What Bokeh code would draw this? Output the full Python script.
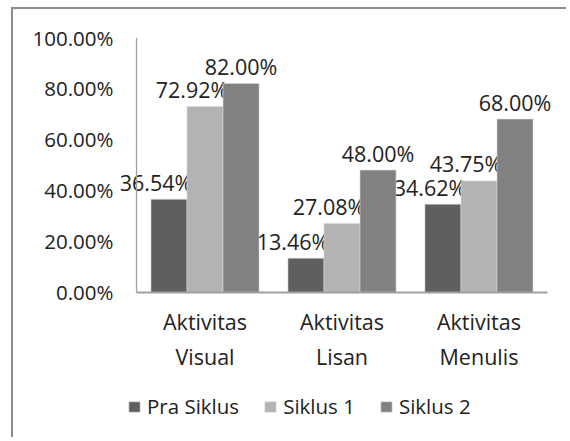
from bokeh.plotting import figure
from bokeh.models import (ColumnDataSource, Range1d, FactorRange, NumeralTickFormatter,
                          FixedTicker, Legend, LegendItem)
from bokeh.transform import dodge
from bokeh.core.properties import value
from bokeh.embed import file_html
from bokeh.resources import INLINE

categories = ["Aktivitas\nVisual", "Aktivitas\nLisan", "Aktivitas\nMenulis"]
series_names = ["Pra Siklus", "Siklus 1", "Siklus 2"]
pra_siklus = [0.3654, 0.1346, 0.3462]
siklus_1 = [0.7292, 0.2708, 0.4375]
siklus_2 = [0.82, 0.48, 0.68]
y_ticks = [0.0, 0.2, 0.4, 0.6, 0.8, 1.0]

colors = ["#5f5f5f", "#b3b3b3", "#818181"]
FONT = "Open Sans"
FS_TICK = "20.5px"
FS_LBL = "21.5px"
FS_CAT = "21.5px"
FS_LEG = "20.5px"
AXIS_COLOR = "#a0a0a0"
TEXT_COLOR = "#222222"

src = ColumnDataSource(dict(
    cat=categories,
    pra=pra_siklus, s1=siklus_1, s2=siklus_2,
    pra_lbl=["%.2f%%" % (v * 100) for v in pra_siklus],
    s1_lbl=["%.2f%%" % (v * 100) for v in siklus_1],
    s2_lbl=["%.2f%%" % (v * 100) for v in siklus_2],
))

# the frame reaches below zero so that the legend can sit inside it
x_range = FactorRange(*categories, range_padding=0.117, range_padding_units="absolute")
p = figure(x_range=x_range, y_range=Range1d(-0.557, 1.0),
           width=555, height=430, output_backend="svg", toolbar_location=None,
           min_border_left=107, min_border_top=28, min_border_right=5, min_border_bottom=5)
p.styles = {"border-top": "2px solid #8c8c8c", "border-left": "2px solid #8c8c8c",
            "margin-left": "11px", "margin-top": "7px"}
p.outline_line_color = None
p.xgrid.grid_line_color = None
p.ygrid.grid_line_color = None
p.background_fill_color = "white"
p.border_fill_color = "white"

bw = 0.263
cols = ["pra", "s1", "s2"]
lbls = ["pra_lbl", "s1_lbl", "s2_lbl"]
offs = [-bw, 0.0, bw]
label_dx = [-13, -13, 0]
renderers = []
for c, l, off, col, dx in zip(cols, lbls, offs, colors, label_dx):
    r = p.vbar(x=dodge("cat", off, range=p.x_range), top=c, width=bw, source=src,
               fill_color=col, line_color="#d8d8d8", line_width=0.6)
    renderers.append(r)
    p.text(x=dodge("cat", off, range=p.x_range), y=c, text=l, source=src,
           x_offset=dx, y_offset=-17, text_align="center", text_baseline="middle",
           text_font=value(FONT), text_font_size=FS_LBL, text_color=TEXT_COLOR)

# axis lines: y axis at the left edge of the first category, x axis across the categories
p.segment(x0=[0, 0], x1=[0, len(categories)], y0=[0, 0], y1=[y_ticks[-1], 0],
          line_color=AXIS_COLOR, line_width=[1.3, 2])

p.yaxis.ticker = FixedTicker(ticks=y_ticks)
p.yaxis.formatter = NumeralTickFormatter(format="0.00%")
p.xaxis.fixed_location = 0
for ax in (p.xaxis, p.yaxis):
    ax.axis_line_color = None
    ax.major_tick_line_color = None
    ax.minor_tick_line_color = None
    ax.major_tick_out = 0
    ax.major_tick_in = 0
    ax.major_label_text_font = FONT
    ax.major_label_text_color = TEXT_COLOR
p.yaxis.major_label_standoff = 7
p.yaxis.major_label_text_font_size = FS_TICK
p.xaxis.major_label_text_font_size = FS_CAT
p.xaxis.major_label_standoff = 15

legend = Legend(items=[LegendItem(label=n, renderers=[r]) for n, r in zip(series_names, renderers)],
                orientation="horizontal", location=(7, 14),
                glyph_width=14, glyph_height=13, label_standoff=6, spacing=24,
                padding=0, margin=0, border_line_color=None, background_fill_alpha=0,
                label_text_font=FONT, label_text_font_size=FS_LEG, label_text_color=TEXT_COLOR)
p.add_layout(legend, "center")

open("out.html", "w").write(file_html(p, INLINE))
